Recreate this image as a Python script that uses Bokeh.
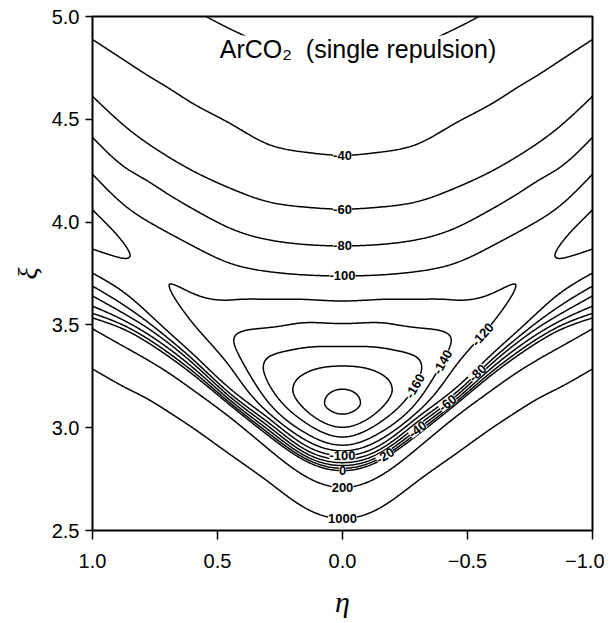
import numpy as np
from bokeh.plotting import figure
from bokeh.models import Range1d, Label, FixedTicker, CustomJSTickFormatter
from bokeh.embed import file_html
from bokeh.resources import INLINE

# ---------------- data ----------------
# angle nodes (|eta|); values at each node
eta_nodes = [0.0, 0.15, 0.30, 0.45, 0.60, 0.70, 0.78, 0.86, 1.00]
well_depth = [205, 188, 163, 138, 126, 119.5, 115, 121, 130]        # -V at the well bottom
r_min = [3.112, 3.15, 3.275, 3.44, 3.60, 3.70, 3.765, 3.85, 3.95]   # xi of the well bottom
# xi where the inner (repulsive) side crosses a level
r_in_1000 = [2.558, 2.61, 2.74, 2.87, 3.00, 3.08, 3.14, 3.19, 3.286]
r_in_200 = [2.709, 2.765, 2.90, 3.05, 3.185, 3.27, 3.33, 3.385, 3.481]
r_in_0 = [2.791, 2.84, 2.965, 3.11, 3.26, 3.35, 3.415, 3.47, 3.534]
r_in_m60 = [2.83, 2.878, 3.01, 3.15, 3.315, 3.415, 3.485, 3.545, 3.641]
r_in_m100 = [2.864, 2.915, 3.05, 3.19, 3.36, 3.47, 3.56, 3.645, 3.752]
# xi where each side crosses the level halfway between the bottom and -100
r_in_half = [2.938, 2.985, 3.10, 3.29, 3.45, 3.57, 3.66, 3.74, 3.84]
r_out_half = [3.435, 3.485, 3.545, 3.63, 3.70, 3.77, 3.84, 3.94, 4.10]
# xi where the outer (attractive) side crosses a level
r_out_m100 = [3.738, 3.743, 3.76, 3.80, 3.885, 3.95, 4.005, 4.07, 4.233]
r_out_m60 = [4.063, 4.073, 4.10, 4.165, 4.25, 4.32, 4.383, 4.456, 4.612]
r_out_m40 = [4.325, 4.34, 4.38, 4.48, 4.578, 4.655, 4.714, 4.777, 4.888]
r_out_m20 = [4.80, 4.81, 4.86, 4.94, 5.04, 5.12, 5.18, 5.25, 5.37]

levels = [-200, -180, -160, -140, -120, -100, -80, -60, -40, -20, 0, 200, 1000]
eta_ticks = [1.0, 0.5, 0.0, -0.5, -1.0]
xi_ticks = [2.5, 3.0, 3.5, 4.0, 4.5, 5.0]

label_level = [-40, -60, -80, -100, -100, 0, 200, 1000, -20, -40, -60, -80, -120, -140, -160]
label_eta = [0.0, 0.0, 0.0, 0.0, 0.0, 0.0, 0.0, 0.0, -0.172, -0.30, -0.42, -0.54, -0.56, -0.40, -0.292]
label_side = ["outer"] * 4 + ["inner"] * 11

title_text = "ArCO\u2082\u00a0\u00a0(single repulsion)"


# ---------------- helpers ----------------
def natural_spline(xn, yn, xq):
    xn = np.asarray(xn, float)
    yn = np.asarray(yn, float)
    n = len(xn)
    h = np.diff(xn)
    A = np.zeros((n, n))
    b = np.zeros(n)
    A[0, 0] = 1.0
    A[-1, -1] = 1.0
    for i in range(1, n - 1):
        A[i, i - 1] = h[i - 1]
        A[i, i] = 2 * (h[i - 1] + h[i])
        A[i, i + 1] = h[i]
        b[i] = 3 * ((yn[i + 1] - yn[i]) / h[i] - (yn[i] - yn[i - 1]) / h[i - 1])
    c = np.linalg.solve(A, b)
    bb = (yn[1:] - yn[:-1]) / h - h * (2 * c[:-1] + c[1:]) / 3
    d = (c[1:] - c[:-1]) / (3 * h)
    idx = np.clip(np.searchsorted(xn, xq) - 1, 0, n - 2)
    dx = xq - xn[idx]
    return yn[idx] + bb[idx] * dx + c[idx] * dx ** 2 + d[idx] * dx ** 3


def spline_sym(values, q):
    en = np.asarray(eta_nodes, float)
    vn = np.asarray(values, float)
    xn = np.concatenate([-en[:0:-1], en])
    yn = np.concatenate([vn[:0:-1], vn])
    return natural_spline(xn, yn, q)


def pchip(xk, yk, xq):
    xk = np.asarray(xk, float)
    yk = np.asarray(yk, float)
    n = len(xk)
    h = np.diff(xk)
    delta = np.diff(yk) / h
    d = np.zeros(n)
    for k in range(1, n - 1):
        if delta[k - 1] * delta[k] > 0:
            w1 = 2 * h[k] + h[k - 1]
            w2 = h[k] + 2 * h[k - 1]
            d[k] = (w1 + w2) / (w1 / delta[k - 1] + w2 / delta[k])

    def end(h0, h1, d0, d1):
        dd = ((2 * h0 + h1) * d0 - h0 * d1) / (h0 + h1)
        if np.sign(dd) != np.sign(d0):
            dd = 0.0
        elif np.sign(d0) != np.sign(d1) and abs(dd) > 3 * abs(d0):
            dd = 3 * d0
        return dd

    d[0] = end(h[0], h[1], delta[0], delta[1])
    d[-1] = end(h[-1], h[-2], delta[-1], delta[-2])
    idx = np.clip(np.searchsorted(xk, xq) - 1, 0, n - 2)
    hh = h[idx]
    t = (xq - xk[idx]) / hh
    h00 = 2 * t ** 3 - 3 * t ** 2 + 1
    h10 = t ** 3 - 2 * t ** 2 + t
    h01 = -2 * t ** 3 + 3 * t ** 2
    h11 = t ** 3 - t ** 2
    out = h00 * yk[idx] + h10 * hh * d[idx] + h01 * yk[idx + 1] + h11 * hh * d[idx + 1]
    lo = xq < xk[0]
    out[lo] = yk[0] + d[0] * (xq[lo] - xk[0])
    hi = xq > xk[-1]
    out[hi] = yk[-1] * np.exp(-2.0 * (xq[hi] - xk[-1]))
    return out


# ---------------- field on a grid ----------------
eta = np.linspace(-1.0, 1.0, 401)
xi = np.linspace(2.5, 5.0, 626)
knot_lists = [r_in_1000, r_in_200, r_in_0, r_in_m60, r_in_m100, r_in_half, r_min,
              r_out_half, r_out_m100, r_out_m60, r_out_m40, r_out_m20]
knots = np.array([spline_sym(v, eta) for v in knot_lists])
depth = spline_sym(well_depth, eta)
Z = np.empty((len(xi), len(eta)))
for j in range(len(eta)):
    half = -(depth[j] + 100.0) / 2.0
    vals = [1000, 200, 0, -60, -100, half, -depth[j], half, -100, -60, -40, -20]
    Z[:, j] = pchip(knots[:, j], vals, xi)

# ---------------- figure ----------------
FW, FH = 500, 514
p = figure(frame_width=FW, frame_height=FH,
           x_range=Range1d(1.0, -1.0), y_range=Range1d(2.5, 5.0),
           output_backend="svg", toolbar_location=None,
           min_border_left=92, min_border_right=12, min_border_top=16, min_border_bottom=75,
           background_fill_color="white", border_fill_color="white")
p.grid.visible = False
p.outline_line_color = "black"
p.outline_line_width = 2
p.outline_line_alpha = 1.0

p.contour(eta, xi, Z, levels=levels, line_color="black", line_width=1.5, fill_color=None)

fmt = CustomJSTickFormatter(code="return (tick < -1e-9 ? '\\u2212' : '') + Math.abs(tick).toFixed(1);")
for ax, ticks in ((p.xaxis, eta_ticks), (p.yaxis, xi_ticks)):
    ax.ticker = FixedTicker(ticks=ticks)
    ax.formatter = fmt
    ax.axis_line_color = None
    ax.major_tick_line_color = "black"
    ax.major_tick_line_width = 1.5
    ax.minor_tick_line_color = None
    ax.major_tick_in = 0
    ax.major_label_text_font = "Liberation Sans"
    ax.major_label_text_font_size = "20px"
    ax.major_label_text_color = "black"
    ax.axis_label_text_font = "Liberation Serif"
    ax.axis_label_text_font_style = "italic"
    ax.axis_label_text_color = "black"

p.xaxis.major_tick_out = 9
p.xaxis.major_label_standoff = 14
p.xaxis.axis_label = "\u03b7"
p.xaxis.axis_label_text_font_size = "30px"
p.xaxis.axis_label_standoff = 14
p.yaxis.major_tick_out = 7
p.yaxis.major_label_standoff = 6
p.yaxis.axis_label = "\u03be"
p.yaxis.axis_label_text_font_size = "28px"
p.yaxis.axis_label_standoff = 6

# ---------------- contour labels ----------------
gxi, geta = np.gradient(Z, xi, eta)
px_eta = FW / 2.0
px_xi = FH / 2.5
for lev, e, side in zip(label_level, label_eta, label_side):
    j = int(np.argmin(np.abs(eta - e)))
    col = Z[:, j] - lev
    idx = np.where(col[:-1] * col[1:] < 0)[0]
    if len(idx) == 0:
        continue
    i = idx[0] if side == "inner" else idx[-1]
    f = col[i] / (col[i] - col[i + 1])
    y0 = xi[i] + f * (xi[i + 1] - xi[i])
    ge, gx = geta[i, j], gxi[i, j]
    ang = np.arctan2(-px_xi * ge, -px_eta * gx)
    if ang > np.pi / 2:
        ang -= np.pi
    if ang < -np.pi / 2:
        ang += np.pi
    p.add_layout(Label(x=eta[j], y=y0, text=str(lev), angle=float(ang), angle_units="rad",
                       text_align="center", text_baseline="middle",
                       text_font="Liberation Sans", text_font_style="bold",
                       text_font_size="13px", text_color="black",
                       background_fill_color="white"))

p.add_layout(Label(x=-0.062, y=4.84, text=title_text, text_align="center", text_baseline="middle",
                   text_font="Liberation Sans", text_font_size="25px", text_color="black",
                   background_fill_color="white"))

open("out.html", "w").write(file_html(p, INLINE))
